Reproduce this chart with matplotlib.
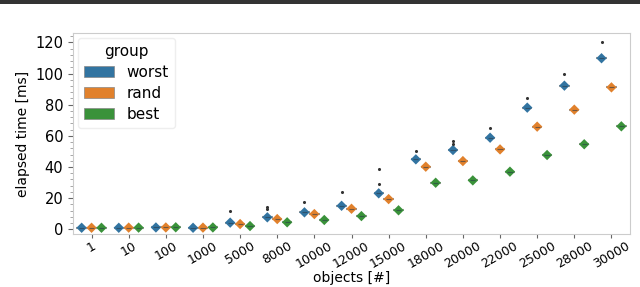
import numpy as np
import matplotlib
matplotlib.use('Agg')
import matplotlib.pyplot as plt
from matplotlib.patches import Patch, Rectangle
from matplotlib.ticker import AutoMinorLocator

# objects per run and median elapsed time [ms] per group
objects = ['1', '10', '100', '1000', '5000', '8000', '10000', '12000',
           '15000', '18000', '20000', '22000', '25000', '28000', '30000']
worst = [1.0, 1.0, 1.2, 1.0, 4.3, 7.7, 10.9, 15.1, 23.1, 44.9, 50.9, 58.8, 78.1, 92.2, 109.8]
rand = [1.0, 1.1, 1.2, 1.1, 3.4, 6.6, 9.8, 13.2, 19.4, 40.2, 43.8, 51.3, 65.9, 76.8, 91.1]
best = [1.0, 1.1, 1.3, 1.2, 2.1, 4.5, 6.0, 8.5, 12.2, 29.9, 31.4, 37.0, 47.7, 54.6, 66.1]

# outliers of the worst group (category index, value)
outlier_idx = [4, 5, 5, 6, 7, 8, 8, 9, 10, 10, 11, 12, 13, 14]
outlier_val = [11.5, 13.0, 14.2, 17.5, 24.1, 28.9, 38.5, 50.3, 55.0, 56.8, 64.8, 84.5, 99.9, 120.0]

groups = ['worst', 'rand', 'best']
colors = ['#3274a1', '#e1812c', '#3a923a']

fig = plt.figure(figsize=(6.4, 2.87), dpi=100)
ax = fig.add_axes([73 / 640, 53 / 287, 557 / 640, 201 / 287])

x = np.arange(len(objects))
offsets = [-0.267, 0.0, 0.267]
for vals, col, off in zip([worst, rand, best], colors, offsets):
    xs = x + off
    ax.hlines(vals, xs - 0.14, xs + 0.14, color='#999999', lw=1.5, zorder=2)
    ax.scatter(xs, vals, marker='D', s=28, color=col, edgecolors='none', zorder=3)
    ax.hlines(vals, xs - 0.07, xs + 0.07, color='#2a3a4a', lw=0.8, zorder=4, alpha=0.6)

ax.scatter(np.array(outlier_idx) + offsets[0], outlier_val, s=1.5, color='#333333', zorder=3)

ax.set_xlim(-0.5, len(objects) - 0.5)
ax.set_ylim(-3, 126)
ax.set_xticks(x)
ax.set_xticklabels(objects, rotation=30, fontsize=9)
ax.tick_params(axis='x', pad=1, length=3)
ax.set_yticks([0, 20, 40, 60, 80, 100, 120])
ax.tick_params(axis='y', labelsize=10.5)
ax.yaxis.set_minor_locator(AutoMinorLocator(5))
ax.tick_params(which='minor', length=2, color='#999999')
ax.tick_params(which='major', color='#666666')
ax.set_xlabel('objects [#]', fontsize=10, labelpad=0)
ax.set_ylabel('elapsed time [ms]', fontsize=10)
for s in ax.spines.values():
    s.set_color('#cccccc')

handles = [Patch(facecolor=c, edgecolor='#888888', lw=0.5, label=g) for g, c in zip(groups, colors)]
ax.legend(handles=handles, title='group', loc='upper left', fontsize=11,
          title_fontsize=11, frameon=True, framealpha=1, edgecolor='#eeeeee',
          handlelength=2.0, handletextpad=0.8, labelspacing=0.4, borderaxespad=0.3)

# dark bar along the top edge
fig.add_artist(Rectangle((0, 1 - 4 / 287), 1, 4 / 287, transform=fig.transFigure,
                         facecolor='#333333', edgecolor='none'))

fig.savefig('out.png', dpi=100)
